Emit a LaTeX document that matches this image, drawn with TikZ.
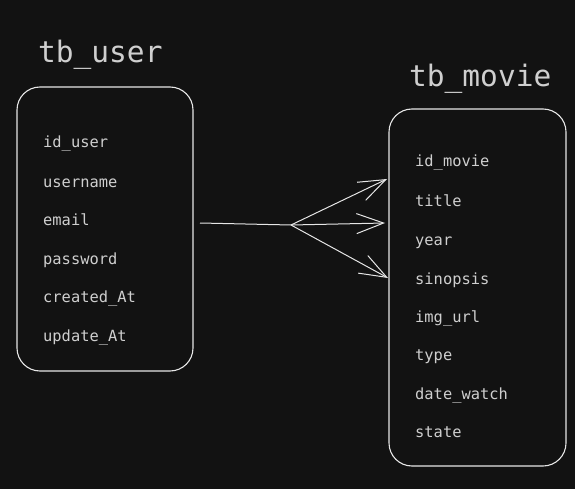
\documentclass[tikz,border=0pt]{standalone}
\usepackage{fontspec}
\setmonofont{DejaVu Sans Mono}
\usetikzlibrary{arrows.meta}
\definecolor{bg}{HTML}{121212}
\definecolor{ink}{HTML}{E6E6E6}
\definecolor{txt}{HTML}{CFCFCF}
\tikzset{
  box/.style={draw=ink, line width=1.1pt, rounded corners=23pt, inner sep=0pt},
  title/.style={anchor=base west, inner sep=0pt, text=txt, font=\ttfamily\fontsize{29.5}{30}\selectfont},
  field/.style={anchor=base west, inner sep=0pt, text=txt, font=\ttfamily\fontsize{15.4}{16}\selectfont},
  conn/.style={draw=ink, line width=1pt},
  arr/.style={conn, -{Straight Barb[length=27pt,width=20pt,line width=1pt]}}
}
\begin{document}
\begin{tikzpicture}[x=1pt,y=-1pt]
\fill[bg] (0,0) rectangle (575,489);
\useasboundingbox (0,0) rectangle (575,489);
% titles
\node[title] (tuser) at (38,63) {tb\_user};
\node[title] (tmovie) at (409,87) {tb\_movie};
% boxes
\node[box, minimum width=176pt, minimum height=284pt] (user) at (105,229) {};
\node[box, minimum width=177pt, minimum height=357pt] (movie) at (477.5,287.5) {};
% user fields
\node[field] (u1) at (43,148) {id\_user};
\node[field] (u2) at (43,187) {username};
\node[field] (u3) at (43,225) {email};
\node[field] (u4) at (43,264) {password};
\node[field] (u5) at (43,302) {created\_At};
\node[field] (u6) at (43,341) {update\_At};
% movie fields
\node[field] (m1) at (415,167) {id\_movie};
\node[field] (m2) at (415,206) {title};
\node[field] (m3) at (415,245) {year};
\node[field] (m4) at (415,284) {sinopsis};
\node[field] (m5) at (415,322) {img\_url};
\node[field] (m6) at (415,360) {type};
\node[field] (m7) at (415,399) {date\_watch};
\node[field] (m8) at (415,437) {state};
% connector
\coordinate (s) at (200,223);
\coordinate (j) at (291,225);
\coordinate (t1) at (387,179);
\coordinate (t2) at (385,223);
\coordinate (t3) at (388,278);
\draw[conn] (s) -- (j);
\draw[arr] (j) -- (t1);
\draw[arr] (j) -- (t2);
\draw[arr] (j) -- (t3);
\end{tikzpicture}
\end{document}
